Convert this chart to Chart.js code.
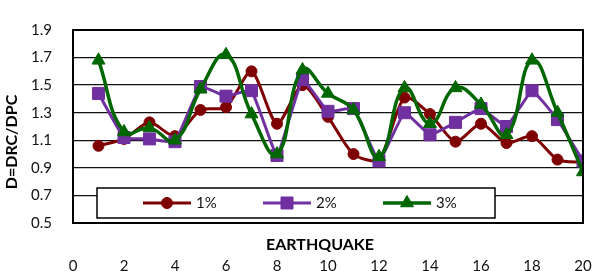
<!DOCTYPE html>
<html>
<head>
<meta charset="utf-8">
<script src="https://cdn.jsdelivr.net/npm/chart.js@4/dist/chart.umd.min.js"></script>
<style>
  html, body { margin: 0; padding: 0; background: #fff; }
  #wrap { width: 593px; height: 271px; position: relative; }
</style>
</head>
<body>
<div id="wrap"><canvas id="chart" width="593" height="271"></canvas></div>
<script>
// Earthquake numbers (x) and damage ratio D = DRC/DPC per drift level
const earthquakes = [1, 2, 3, 4, 5, 6, 7, 8, 9, 10, 11, 12, 13, 14, 15, 16, 17, 18, 19, 20];
const drift1 = [1.06, 1.11, 1.23, 1.13, 1.32, 1.34, 1.60, 1.22, 1.50, 1.27, 1.00, 0.96, 1.41, 1.29, 1.09, 1.22, 1.08, 1.13, 0.96, 0.94];
const drift2 = [1.44, 1.12, 1.11, 1.09, 1.49, 1.42, 1.46, 0.99, 1.54, 1.31, 1.33, 0.95, 1.30, 1.14, 1.23, 1.33, 1.20, 1.46, 1.25, 0.95];
const drift3 = [1.68, 1.16, 1.19, 1.10, 1.47, 1.72, 1.29, 1.00, 1.61, 1.44, 1.32, 0.98, 1.48, 1.22, 1.48, 1.36, 1.14, 1.68, 1.30, 0.87];
const seriesLabels = ['1%', '2%', '3%'];
const yTicks = [0.5, 0.7, 0.9, 1.1, 1.3, 1.5, 1.7, 1.9];

const FONT = 'Lato, "Open Sans", sans-serif';
const colors = ['#7f0000', '#7030a0', '#006600'];
const styles = ['circle', 'rect', 'triangle'];
const radii = [5.5, 8.5, 7.5];

const toPoints = (vals) => vals.map((v, i) => ({ x: earthquakes[i], y: v }));

// Frame, legend box and axis titles drawn on top of the plot
const overlayPlugin = {
    id: 'overlay',
    afterDraw(chart) {
        const { ctx, chartArea } = chart;
        const { left, top, right, bottom } = chartArea;
        ctx.save();

        // legend box inside the plot area
        const bx = left + 24, by = bottom - 35, bw = 398, bh = 30;
        ctx.fillStyle = '#fff';
        ctx.fillRect(bx, by, bw, bh);
        ctx.strokeStyle = '#000';
        ctx.lineWidth = 1.5;
        ctx.strokeRect(bx, by, bw, bh);

        const cy = by + 15;
        chart.data.datasets.forEach((ds, i) => {
            const mx = bx + 70 + i * 120;
            ctx.strokeStyle = ds.borderColor;
            ctx.lineWidth = ds.borderWidth;
            ctx.beginPath();
            ctx.moveTo(mx - 24, cy);
            ctx.lineTo(mx + 24, cy);
            ctx.stroke();
            ctx.fillStyle = ds.pointBackgroundColor;
            ctx.strokeStyle = ds.pointBorderColor;
            ctx.lineWidth = 1;
            Chart.helpers.drawPoint(ctx, {
                pointStyle: ds.pointStyle,
                radius: ds.pointRadius,
                rotation: 0,
                borderWidth: 1
            }, mx, cy);
            ctx.fillStyle = '#111';
            ctx.font = '15px ' + FONT;
            ctx.textAlign = 'left';
            ctx.textBaseline = 'middle';
            ctx.fillText(ds.label, mx + 29, cy);
        });

        // plot frame
        ctx.strokeStyle = '#000';
        ctx.lineWidth = 2;
        ctx.strokeRect(left, top, right - left, bottom - top);

        // axis titles
        ctx.fillStyle = '#000';
        ctx.font = 'bold 16px ' + FONT;
        ctx.textAlign = 'center';
        ctx.textBaseline = 'middle';
        ctx.fillText('EARTHQUAKE', 320, 245);
        ctx.translate(12, 142);
        ctx.rotate(-Math.PI / 2);
        ctx.fillText('D=DRC/DPC', 0, 0);
        ctx.restore();
    }
};

const datasets = [drift1, drift2, drift3].map((vals, i) => ({
    label: seriesLabels[i],
    data: toPoints(vals),
    borderColor: colors[i],
    backgroundColor: colors[i],
    pointBackgroundColor: colors[i],
    pointBorderColor: colors[i],
    borderWidth: i === 2 ? 3.5 : 3,
    pointStyle: styles[i],
    pointRadius: radii[i],
    pointBorderWidth: 1,
    tension: [0.25, 0.1, 0.45][i],
    order: 3 - i
}));

const ctx = document.getElementById('chart').getContext('2d');
new Chart(ctx, {
    type: 'line',
    data: { datasets: datasets },
    options: {
        responsive: false,
        animation: false,
        layout: { padding: { top: 15, right: 10, left: 0, bottom: 0 } },
        plugins: {
            legend: { display: false },
            tooltip: { enabled: false }
        },
        scales: {
            x: {
                type: 'linear',
                min: 0,
                max: 20,
                grid: { display: false },
                border: { display: false },
                ticks: {
                    stepSize: 2,
                    padding: 26,
                    color: '#111',
                    font: { family: FONT, size: 15 }
                },
                afterFit: (scale) => {
                    // tick padding is only meant to push labels down, not in from the sides
                    scale.height = 48;
                    scale.paddingLeft = 0;
                    scale.paddingRight = 0;
                }
            },
            y: {
                min: 0.5,
                max: 1.9,
                grid: { color: '#111', lineWidth: 1.3, drawTicks: false },
                border: { display: false },
                afterBuildTicks: (scale) => {
                    scale.ticks = yTicks.map(v => ({ value: v }));
                },
                ticks: {
                    padding: 21,
                    color: '#111',
                    font: { family: FONT, size: 15 },
                    callback: (v) => Number(v).toFixed(1)
                },
                afterFit: (scale) => { scale.width = 73; }
            }
        }
    },
    plugins: [overlayPlugin]
});
</script>
</body>
</html>
